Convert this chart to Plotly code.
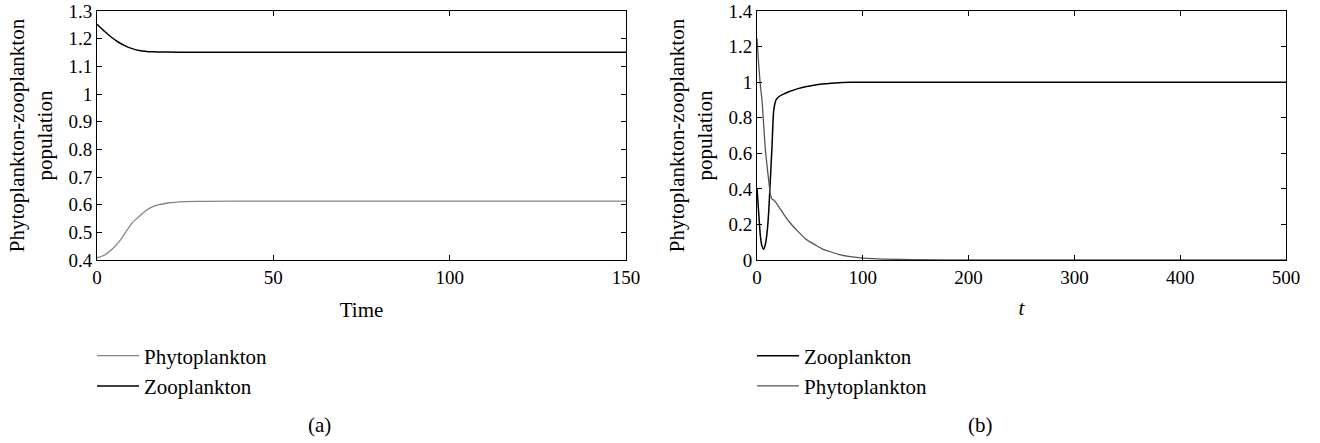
import plotly.graph_objects as go

# Panel (a)
t_a = [0, 2, 4, 6, 8, 10, 12, 14, 16, 17, 20, 25, 30, 40, 60, 100, 150]
zoo_a = [1.252, 1.228, 1.206, 1.188, 1.174, 1.164, 1.157, 1.154, 1.1525, 1.152, 1.1515, 1.151, 1.151, 1.151, 1.151, 1.151, 1.151]
phy_a = [0.408, 0.417, 0.436, 0.462, 0.498, 0.534, 0.558, 0.580, 0.594, 0.598, 0.606, 0.611, 0.612, 0.613, 0.613, 0.613, 0.613]

# Panel (b)
t_b = [0, 1.6, 3.2, 4.7, 6.3, 7.9, 9.5, 11, 12.6, 14.2, 15.8, 18, 20.5, 25, 30, 38, 45.7, 55, 61.5, 70, 77, 90, 100, 120, 150, 200, 300, 400, 500]
zoo_b = [0.405, 0.265, 0.134, 0.078, 0.060, 0.088, 0.153, 0.265, 0.45, 0.64, 0.84, 0.90, 0.918, 0.933, 0.946, 0.962, 0.974, 0.984, 0.989, 0.994, 0.997, 0.999, 1.0, 1.0, 1.0, 1.0, 1.0, 1.0, 1.0]
phy_b = [1.245, 1.10, 0.98, 0.90, 0.76, 0.62, 0.53, 0.45, 0.37, 0.342, 0.338, 0.322, 0.30, 0.26, 0.218, 0.165, 0.12, 0.085, 0.063, 0.045, 0.032, 0.017, 0.011, 0.005, 0.002, 0.0, 0.0, 0.0, 0.0]

FONT = "Liberation Serif, Times New Roman, DejaVu Serif, serif"
TICK = 19
TXT = 21
W, H = 1320, 443

fig = go.Figure()

fig.add_trace(go.Scatter(x=t_a, y=phy_a, mode="lines", name="Phytoplankton",
                         line=dict(color="#858585", width=1.3, shape="spline"),
                         xaxis="x", yaxis="y", legend="legend"))
fig.add_trace(go.Scatter(x=t_a, y=zoo_a, mode="lines", name="Zooplankton",
                         line=dict(color="#000000", width=1.5, shape="spline"),
                         xaxis="x", yaxis="y", legend="legend"))
fig.add_trace(go.Scatter(x=t_b, y=zoo_b, mode="lines", name="Zooplankton",
                         line=dict(color="#000000", width=1.5, shape="spline", smoothing=0.6),
                         xaxis="x2", yaxis="y2", legend="legend2"))
fig.add_trace(go.Scatter(x=t_b, y=phy_b, mode="lines", name="Phytoplankton",
                         line=dict(color="#555555", width=1.3, shape="spline", smoothing=0.6),
                         xaxis="x2", yaxis="y2", legend="legend2"))

axcommon = dict(showgrid=False, zeroline=False, showline=True, linecolor="black",
                linewidth=1, mirror="ticks", ticks="inside", ticklen=5,
                tickcolor="black", automargin=False,
                tickfont=dict(family=FONT, size=TICK, color="black"))

ytitle = "Phytoplankton-zooplankton<br>population"
ydom = [1 - 260 / H, 1 - 11 / H]

fig.update_layout(
    width=W, height=H,
    margin=dict(l=0, r=0, t=0, b=0, autoexpand=False),
    paper_bgcolor="white", plot_bgcolor="white",
    font=dict(family=FONT, size=TXT, color="black"),
    showlegend=True,
    xaxis=dict(domain=[97 / W, 626 / W], range=[0, 150], tickvals=[0, 50, 100, 150],
               title=dict(text="Time", font=dict(family=FONT, size=TXT), standoff=15),
               anchor="y", **axcommon),
    yaxis=dict(domain=ydom, range=[0.4, 1.3], dtick=0.1, tickformat="~g",
               title=dict(text=ytitle, font=dict(family=FONT, size=TXT), standoff=10),
               anchor="x", **axcommon),
    xaxis2=dict(domain=[757 / W, 1286 / W], range=[0, 500], tickvals=[0, 100, 200, 300, 400, 500],
                title=dict(text="<i>t</i>", font=dict(family=FONT, size=TXT), standoff=13),
                anchor="y2", **axcommon),
    yaxis2=dict(domain=ydom, range=[0, 1.4], dtick=0.2, tickformat="~g",
                title=dict(text=ytitle, font=dict(family=FONT, size=TXT), standoff=10),
                anchor="x2", **axcommon),
    legend=dict(x=92 / W, y=1 - 371 / H, xanchor="left", yanchor="middle",
                font=dict(family=FONT, size=TXT), bgcolor="rgba(0,0,0,0)",
                tracegroupgap=0, itemwidth=42),
    legend2=dict(x=752 / W, y=1 - 371 / H, xanchor="left", yanchor="middle",
                 font=dict(family=FONT, size=TXT), bgcolor="rgba(0,0,0,0)",
                 tracegroupgap=0, itemwidth=42),
    annotations=[
        dict(text="(a)", x=319 / W, y=1 - 425 / H, xref="paper", yref="paper",
             xanchor="center", yanchor="middle",
             showarrow=False, font=dict(family=FONT, size=TXT)),
        dict(text="(b)", x=980 / W, y=1 - 425 / H, xref="paper", yref="paper",
             xanchor="center", yanchor="middle",
             showarrow=False, font=dict(family=FONT, size=TXT)),
    ],
)

fig.write_html("out.html")
